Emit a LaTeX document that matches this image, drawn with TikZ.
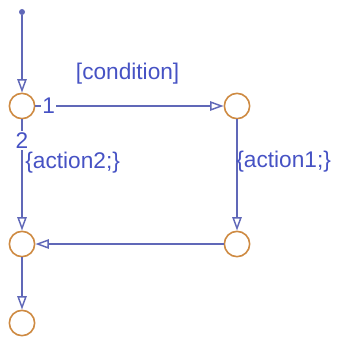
\documentclass[tikz,border=0pt]{standalone}
\usepackage{fontspec}
\setmainfont{Liberation Sans}
\usepackage{xcolor}
\usetikzlibrary{arrows.meta}

\definecolor{flowblue}{RGB}{96,104,184}
\definecolor{labelblue}{RGB}{70,82,196}
\definecolor{juncorange}{RGB}{206,138,66}

\begin{document}
\begin{tikzpicture}[x=0.75pt, y=-0.75pt, node distance=104pt]

\tikzstyle{junction} =
[circle,
minimum size=19pt,
inner sep=0pt,
line width=1.2pt,
draw=juncorange,
fill=white]

\tikzstyle{flow} =
[line width=1.1pt,
draw=flowblue,
-{Triangle[open, length=10pt, width=7pt]}]

\tikzstyle{txt} =
[text=labelblue,
font=\fontsize{17}{20}\selectfont,
inner sep=1pt]

\useasboundingbox (0,0) rectangle (339,342);

\node (start) [circle, fill=flowblue, inner sep=0pt, minimum size=4.5pt] at (22,12) {};

\node (jA) [junction] at (22,106) {};
\node (jB) [junction] at (237,106) {};
\node (jC) [junction] at (237,244) {};
\node (jD) [junction] at (22,244) {};
\node (jE) [junction] at (22,323) {};

\draw[flow] (start) -- (jA);
\draw[flow] (jA) -- node[txt, pos=0.07, fill=white] {1}
  node[txt, pos=0.49, above=15pt] {[condition]} (jB);
\draw[flow] (jB) -- node[txt, pos=0.38, anchor=west, xshift=-2pt] {\{action1;\}} (jC);
\draw[flow] (jA) -- node[txt, pos=0.19, fill=white] {2}
  node[txt, pos=0.39, anchor=west, xshift=1pt] {\{action2;\}} (jD);
\draw[flow] (jC) -- (jD);
\draw[flow] (jD) -- (jE);

\end{tikzpicture}
\end{document}
